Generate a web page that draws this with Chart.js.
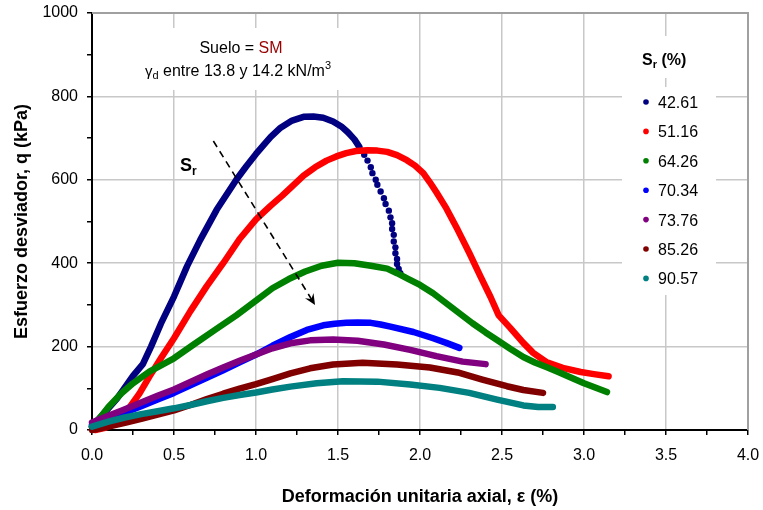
<!DOCTYPE html>
<html>
<head>
<meta charset="utf-8">
<script src="https://cdn.jsdelivr.net/npm/chart.js@4/dist/chart.umd.min.js"></script>
<style>
  html, body { margin: 0; padding: 0; background: #fff; }
  #wrap { width: 763px; height: 510px; }
</style>
</head>
<body>
<div id="wrap"><canvas id="c" width="763" height="510"></canvas></div>
<script>
// Curvas esfuerzo desviador q (kPa) vs deformación unitaria axial ε (%)
// Cada par: [ε (%), q (kPa)]

// Sr = 42.61 %: tramo denso y tramo final de puntos separados
const sr4261 = [
  [0.00, 8], [0.05, 30], [0.10, 52], [0.15, 74], [0.19, 96], [0.25, 130], [0.31, 158],
  [0.36, 200], [0.42, 255], [0.50, 320], [0.58, 393], [0.66, 456], [0.76, 528],
  [0.88, 600], [0.94, 632], [1.00, 662], [1.05, 685], [1.09, 703], [1.15, 725],
  [1.22, 742], [1.29, 751], [1.35, 752], [1.41, 749], [1.47, 740], [1.52, 728],
  [1.56, 714], [1.60, 697], [1.63, 679]
];
const sr4261Sparse = [
  [1.66, 660], [1.68, 646], [1.70, 630], [1.71, 616], [1.73, 600], [1.74, 588],
  [1.76, 572], [1.78, 556], [1.79, 542], [1.81, 526], [1.82, 510], [1.83, 496],
  [1.83, 482], [1.84, 468], [1.84, 452], [1.85, 438], [1.85, 424], [1.86, 410],
  [1.86, 398], [1.87, 386], [1.88, 376]
];
const sr5116 = [
  [0.02, 0], [0.08, 5], [0.14, 18], [0.19, 36], [0.23, 55], [0.29, 88], [0.35, 128],
  [0.42, 172], [0.50, 220], [0.60, 285], [0.70, 345], [0.80, 400], [0.90, 458],
  [1.00, 505], [1.09, 538], [1.16, 562], [1.23, 588], [1.29, 610], [1.36, 630],
  [1.43, 646], [1.49, 656], [1.55, 664], [1.61, 669], [1.68, 671], [1.74, 670],
  [1.80, 667], [1.86, 659], [1.92, 647], [1.97, 634], [2.02, 616], [2.06, 594],
  [2.10, 570], [2.16, 532], [2.23, 480], [2.30, 425], [2.37, 367], [2.43, 319],
  [2.48, 275], [2.55, 245], [2.63, 209], [2.69, 185], [2.77, 163], [2.87, 149],
  [2.98, 139], [3.06, 134], [3.15, 129]
];
const sr6426 = [
  [0.00, 8], [0.05, 30], [0.10, 55], [0.18, 88], [0.25, 112], [0.35, 140], [0.50, 172],
  [0.62, 205], [0.75, 240], [0.88, 275], [1.00, 310], [1.10, 340], [1.20, 362],
  [1.30, 380], [1.40, 394], [1.50, 401], [1.60, 400], [1.70, 394], [1.80, 387],
  [1.86, 376], [1.93, 362], [2.00, 348], [2.08, 328], [2.16, 304], [2.24, 280],
  [2.32, 256], [2.40, 234], [2.47, 216], [2.55, 195], [2.63, 175], [2.70, 162],
  [2.77, 151], [2.85, 138], [2.93, 124], [3.00, 112], [3.06, 103], [3.14, 91]
];
const sr7034 = [
  [0.00, 12], [0.10, 27], [0.19, 40], [0.30, 57], [0.40, 73], [0.50, 89], [0.60, 107],
  [0.70, 125], [0.80, 143], [0.90, 162], [1.00, 181], [1.10, 202], [1.21, 223],
  [1.31, 240], [1.41, 251], [1.48, 255], [1.55, 257], [1.62, 258], [1.70, 257],
  [1.76, 253], [1.82, 248], [1.96, 235], [2.08, 220], [2.16, 209], [2.24, 197]
];
const sr7376 = [
  [0.00, 18], [0.10, 34], [0.19, 48], [0.30, 66], [0.40, 82], [0.50, 97], [0.60, 115],
  [0.70, 133], [0.80, 150], [0.90, 166], [1.00, 181], [1.10, 196], [1.21, 208],
  [1.33, 215], [1.47, 217], [1.62, 214], [1.78, 205], [1.94, 192], [2.10, 177],
  [2.26, 164], [2.40, 158]
];
const sr8526 = [
  [0.00, 0], [0.10, 8], [0.20, 17], [0.30, 27], [0.40, 37], [0.50, 47], [0.60, 60],
  [0.70, 74], [0.80, 87], [0.90, 99], [1.00, 110], [1.10, 122], [1.21, 136],
  [1.33, 148], [1.47, 157], [1.65, 161], [1.86, 157], [2.06, 150], [2.23, 138],
  [2.38, 121], [2.53, 105], [2.63, 96], [2.75, 89]
];
const sr9057 = [
  [0.00, 8], [0.10, 20], [0.20, 30], [0.30, 38], [0.40, 45], [0.50, 52], [0.60, 60],
  [0.70, 69], [0.80, 77], [0.90, 84], [1.00, 90], [1.10, 97], [1.21, 104],
  [1.37, 112], [1.53, 117], [1.74, 116], [1.94, 109], [2.12, 101], [2.30, 89],
  [2.47, 73], [2.63, 59], [2.72, 55], [2.81, 55]
];

const seriesLabels = ['42.61', '51.16', '64.26', '70.34', '73.76', '85.26', '90.57'];
const seriesColors = ['#000080', '#ff0000', '#008000', '#0000ff', '#800080', '#800000', '#008080'];
const seriesPoints = [sr4261.concat(sr4261Sparse), sr5116, sr6426, sr7034, sr7376, sr8526, sr9057];
const denseCount42 = sr4261.length;

// Flecha de tendencia con Sr creciente (coordenadas ε, q)
const trendFrom = [0.74, 693];
const trendTo = [1.36, 300];

const FONT = "'Liberation Sans', Arial, Helvetica, sans-serif";
const isMajorX = v => Math.abs(Math.round(v * 100) % 50) === 0;
const isMajorY = v => Math.round(v) % 200 === 0;

function drawRich(ctx, pieces, cx, baseline, anchor) {
  let total = 0;
  for (const p of pieces) { ctx.font = p.font; total += ctx.measureText(p.text).width; }
  let x = anchor === 'left' ? cx : cx - total / 2;
  ctx.textBaseline = 'alphabetic';
  ctx.textAlign = 'left';
  for (const p of pieces) {
    ctx.font = p.font;
    ctx.fillStyle = p.color || '#000';
    ctx.fillText(p.text, x, baseline + (p.dy || 0));
    x += ctx.measureText(p.text).width;
  }
}

const overlay = {
  id: 'overlay',
  beforeDatasetsDraw(chart) {
    const { ctx, chartArea: a } = chart;
    ctx.save();
    // recuadro gris superior y derecho del área de trazado
    ctx.strokeStyle = '#a0a0a0';
    ctx.lineWidth = 2;
    ctx.beginPath();
    ctx.moveTo(a.left, a.top); ctx.lineTo(a.right, a.top); ctx.lineTo(a.right, a.bottom);
    ctx.stroke();
    // fondos blancos de los cuadros de texto y la leyenda
    ctx.fillStyle = '#fff';
    ctx.fillRect(137, 28, 208, 62);
    ctx.fillRect(622, 36, 94, 42);
    ctx.fillRect(622, 87, 94, 208);
    ctx.restore();
  },
  afterDatasetsDraw(chart) {
    const { ctx, scales: { x, y } } = chart;
    ctx.save();

    // cuadro de información del suelo
    drawRich(ctx, [
      { text: 'Suelo = ', font: `16px ${FONT}` },
      { text: 'SM', font: `16px ${FONT}`, color: '#990000' }
    ], 241, 53);
    drawRich(ctx, [
      { text: 'γ', font: `15px ${FONT}` },
      { text: 'd', font: `11px ${FONT}`, dy: 3 },
      { text: ' entre 13.8 y 14.2 kN/m', font: `16px ${FONT}` },
      { text: '3', font: `11px ${FONT}`, dy: -7 }
    ], 238, 76);

    // etiqueta Sr junto a la flecha
    drawRich(ctx, [
      { text: 'S', font: `bold 18px ${FONT}` },
      { text: 'r', font: `bold 12px ${FONT}`, dy: 4 }
    ], 180, 171, 'left');

    // flecha discontinua
    const x0 = x.getPixelForValue(trendFrom[0]), y0 = y.getPixelForValue(trendFrom[1]);
    const x1 = x.getPixelForValue(trendTo[0]), y1 = y.getPixelForValue(trendTo[1]);
    const ang = Math.atan2(y1 - y0, x1 - x0);
    ctx.strokeStyle = '#000';
    ctx.lineWidth = 1.6;
    ctx.setLineDash([7, 5]);
    ctx.beginPath();
    ctx.moveTo(x0, y0);
    ctx.lineTo(x1 - 6 * Math.cos(ang), y1 - 6 * Math.sin(ang));
    ctx.stroke();
    ctx.setLineDash([]);
    ctx.translate(x1, y1);
    ctx.rotate(ang);
    ctx.fillStyle = '#000';
    ctx.beginPath();
    ctx.moveTo(0, 0);
    ctx.lineTo(-11, -5);
    ctx.lineTo(-7, 0);
    ctx.lineTo(-11, 5);
    ctx.closePath();
    ctx.fill();
    ctx.setTransform(1, 0, 0, 1, 0, 0);

    // leyenda
    drawRich(ctx, [
      { text: 'S', font: `bold 16px ${FONT}` },
      { text: 'r', font: `bold 11px ${FONT}`, dy: 3 },
      { text: ' (%)', font: `bold 16px ${FONT}` }
    ], 642, 65, 'left');
    chart.data.datasets.forEach((ds, i) => {
      const cy = 103.5 + i * 29.4;
      ctx.fillStyle = ds.borderColor;
      ctx.beginPath();
      ctx.arc(646, cy - 1.5, 2.8, 0, Math.PI * 2);
      ctx.fill();
      ctx.fillStyle = '#000';
      ctx.font = `16px ${FONT}`;
      ctx.textAlign = 'left';
      ctx.textBaseline = 'middle';
      ctx.fillText(ds.label, 658, cy);
    });
    ctx.restore();
  }
};

new Chart(document.getElementById('c'), {
  type: 'scatter',
  data: {
    datasets: seriesPoints.map((pts, i) => ({
      label: seriesLabels[i],
      data: pts.map(([e, q]) => ({ x: e, y: q })),
      showLine: true,
      borderColor: seriesColors[i],
      backgroundColor: seriesColors[i],
      borderWidth: 6.5,
      borderCapStyle: 'round',
      borderJoinStyle: 'round',
      tension: 0,
      pointRadius: ctx => (i === 0 && ctx.dataIndex >= denseCount42) ? 3.2 : 0,
      pointBorderWidth: 0,
      pointHoverRadius: 0,
      segment: i === 0
        ? { borderColor: ctx => ctx.p0DataIndex >= denseCount42 - 1 ? 'rgba(0,0,0,0)' : undefined }
        : undefined,
      order: seriesLabels.length - i,
      clip: false
    }))
  },
  options: {
    responsive: false,
    animation: false,
    devicePixelRatio: 1,
    events: [],
    layout: { padding: { top: 13, right: 15, left: 0, bottom: 0 } },
    plugins: { legend: { display: false }, tooltip: { enabled: false } },
    scales: {
      x: {
        type: 'linear',
        min: 0, max: 4,
        border: { display: true, color: '#000', width: 2 },
        grid: {
          color: c => isMajorX(c.tick.value) ? '#c8c8c8' : 'rgba(0,0,0,0)',
          lineWidth: 1.5,
          drawTicks: true,
          tickLength: 5,
          tickColor: '#000',
          tickWidth: 1.5
        },
        ticks: {
          stepSize: 0.25,
          autoSkip: false,
          maxRotation: 0,
          padding: 11,
          color: '#000',
          font: { family: FONT, size: 16 },
          callback: v => isMajorX(v) ? Number(v).toFixed(1) : ''
        },
        title: {
          display: true,
          text: 'Deformación unitaria axial, ε (%)',
          color: '#000',
          font: { family: FONT, size: 18, weight: 'bold' },
          padding: { top: 0, bottom: 2 }
        },
        afterFit: s => { s.height = 80; s.paddingLeft = 0; s.paddingRight = 0; }
      },
      y: {
        type: 'linear',
        min: 0, max: 1000,
        border: { display: true, color: '#000', width: 2 },
        grid: {
          color: c => isMajorY(c.tick.value) ? '#c8c8c8' : 'rgba(0,0,0,0)',
          lineWidth: 1.5,
          drawTicks: true,
          tickLength: 5,
          tickColor: '#000',
          tickWidth: 1.5
        },
        ticks: {
          stepSize: 100,
          autoSkip: false,
          padding: 9,
          color: '#000',
          font: { family: FONT, size: 16 },
          callback: v => isMajorY(v) ? String(v) : ''
        },
        title: {
          display: true,
          text: 'Esfuerzo desviador, q (kPa)',
          color: '#000',
          font: { family: FONT, size: 18, weight: 'bold' },
          padding: { top: 11, bottom: 0 }
        },
        afterFit: s => { s.width = 92; s.paddingTop = 0; s.paddingBottom = 0; }
      }
    }
  },
  plugins: [overlay]
});
</script>
</body>
</html>
